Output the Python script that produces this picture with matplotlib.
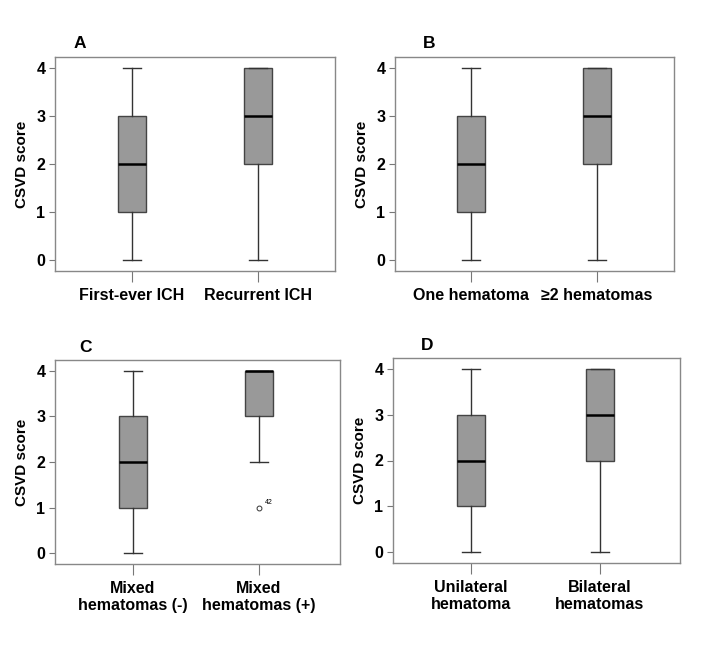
import matplotlib.pyplot as plt

plt.rcParams['font.family'] = ['Liberation Sans', 'DejaVu Sans']
plt.rcParams['font.weight'] = 'bold'

# ------------------------------------------------------------------
# data: five-number summaries
# ------------------------------------------------------------------
labels_a = ["First-ever ICH", "Recurrent ICH"]
labels_b = ["One hematoma", "\u22652 hematomas"]
labels_c = ["Mixed\nhematomas (-)", "Mixed\nhematomas (+)"]
labels_d = ["Unilateral\nhematoma", "Bilateral\nhematomas"]

# (whislo, q1, median, q3, whishi)
stats_a = [(0, 1, 2, 3, 4), (0, 2, 3, 4, 4)]
stats_b = [(0, 1, 2, 3, 4), (0, 2, 3, 4, 4)]
stats_c = [(0, 1, 2, 3, 4), (2, 3, 4, 4, 4)]
stats_d = [(0, 1, 2, 3, 4), (0, 2, 3, 4, 4)]
fliers_c = [[], [1]]
flier_id_c = "42"

# ------------------------------------------------------------------
# layout in pixels: axes box (left, top, right, bottom) and box centres
# ------------------------------------------------------------------
W, H = 706, 646
panels = [
    ("A", labels_a, stats_a, None, (55, 57, 335, 271), (132, 258), (80, 44)),
    ("B", labels_b, stats_b, None, (395, 57, 674, 271), (471, 597), (429, 44)),
    ("C", labels_c, stats_c, fliers_c, (55, 360, 340, 564), (133, 259), (86, 347)),
    ("D", labels_d, stats_d, None, (393, 358, 680, 563), (471, 600), (427, 346)),
]

fig = plt.figure(figsize=(W / 100, H / 100), dpi=100)

for letter, labels, stats, fliers, (L, T, R, B), (c1, c2), (tx, ty) in panels:
    ax = fig.add_axes([L / W, 1 - B / H, (R - L) / W, (B - T) / H])

    bstats = []
    for i, (lo, q1, med, q3, hi) in enumerate(stats):
        bstats.append(dict(whislo=lo, q1=q1, med=med, q3=q3, whishi=hi,
                           fliers=fliers[i] if fliers else []))

    ax.bxp(bstats, positions=[1, 2], widths=0.22, capwidths=0.14,
           patch_artist=True,
           boxprops=dict(facecolor="#999999", edgecolor="#444444", linewidth=1.0),
           medianprops=dict(color="black", linewidth=1.8),
           whiskerprops=dict(color="#333333", linewidth=1.0),
           capprops=dict(color="#333333", linewidth=1.0),
           flierprops=dict(marker="o", markersize=3.5, markerfacecolor="white",
                           markeredgecolor="#333333", markeredgewidth=0.7))

    if fliers:
        for i, fl in enumerate(fliers):
            for v in fl:
                ax.text(i + 1 + 0.05, v + 0.04, flier_id_c, fontsize=5,
                        fontweight="normal", ha="left", va="bottom")

    s = c2 - c1
    ax.set_xlim(1 - (c1 - L) / s, 2 + (R - c2) / s)
    ax.set_ylim(-0.23, 4.23)
    ax.set_yticks([0, 1, 2, 3, 4])
    ax.set_xticks([1, 2])
    ax.set_xticklabels(labels, fontsize=11.5, fontweight="bold")
    ax.tick_params(axis="y", labelsize=11.5, length=4, color="#777777", pad=3)
    ax.tick_params(axis="x", length=8, color="#777777", pad=4)
    for lab in ax.get_yticklabels():
        lab.set_fontweight("bold")
    ax.set_ylabel("CSVD score", fontsize=11, fontweight="bold", labelpad=5)
    for sp in ax.spines.values():
        sp.set_color("#888888")
        sp.set_linewidth(1.0)

    fig.text(tx / W, 1 - ty / H, letter, fontsize=12.5, fontweight="bold",
             ha="center", va="center")

fig.savefig("out.png", dpi=100)
